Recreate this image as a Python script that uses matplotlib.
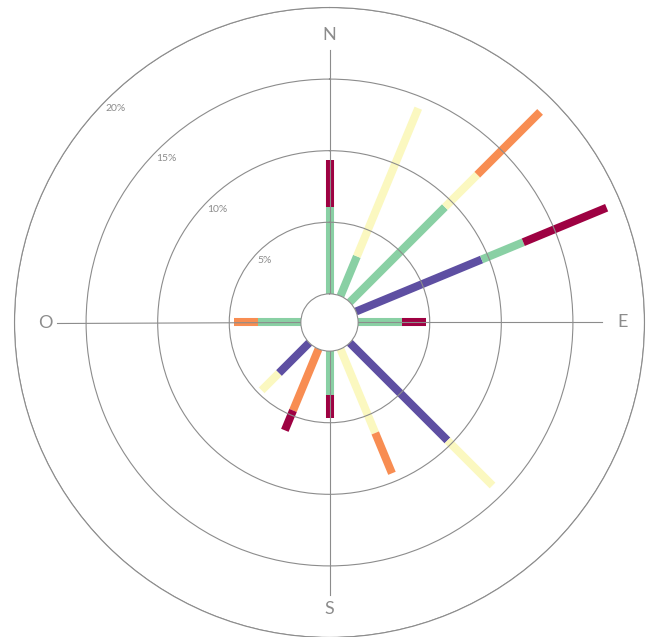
import numpy as np
import matplotlib
matplotlib.use("Agg")
import matplotlib.pyplot as plt

plt.rcParams['font.family'] = ['Lato', 'DejaVu Sans']

# Data (percent of time), stacked from inside outwards
directions = ["N", "NNE", "NE", "ENE", "E", "ESE", "SE", "SSE",
              "S", "SSW", "SW", "WSW", "W", "WNW", "NW", "NNW"]
bearings = [0, 22.5, 45, 67.5, 90, 112.5, 135, 157.5,
            180, 202.5, 225, 247.5, 270, 292.5, 315, 337.5]
speed_classes = ["c1", "c2", "c3", "c4", "c5"]
purple = [0, 0, 0, 9.5, 0, 0, 9.65, 0, 0, 0, 3.0, 0, 0, 0, 0, 0]
green  = [6.1, 3.0, 9.4, 3.15, 3.05, 0, 0, 0, 3.05, 0, 0, 0, 3.0, 0, 0, 0]
yellow = [0, 11.2, 3.2, 0, 0, 0, 4.45, 6.35, 0, 0, 1.7, 0, 0, 0, 0, 0]
orange = [0, 0, 6.2, 0, 0, 0, 0, 3.05, 0, 4.65, 0, 0, 1.7, 0, 0, 0]
crimson = [3.25, 0, 0, 6.3, 1.7, 0, 0, 0, 1.65, 1.5, 0, 0, 0, 0, 0, 0]
series = [purple, green, yellow, orange, crimson]
colors = ["#5e4fa2", "#89d0a4", "#fbf8c0", "#f88d52", "#9e0142"]

ring_values = [5, 10, 15, 20]
ring_labels = ["5%", "10%", "15%", "20%"]
cardinals = ["N", "E", "S", "O"]
cardinal_bearings = [0, 90, 180, 270]

W, H = 653, 637
fig = plt.figure(figsize=(W / 100, H / 100), dpi=100)
cx, cy, R = 329.5, 322.5, 315.0
ax = fig.add_axes([(cx - R) / W, (H - cy - R) / H, 2 * R / W, 2 * R / H],
                  projection='polar')
ax.set_theta_zero_location('N')
ax.set_theta_direction(-1)
ax.set_rlim(0, 20)
ax.set_rorigin(-2)

grey = "#8c8c8c"
ax.set_rgrids(ring_values, labels=[""] * len(ring_values))
ax.set_thetagrids([], [])
ax.grid(True, color=grey, linewidth=0.8)
ax.yaxis.grid(True, color=grey, linewidth=0.8)
ax.xaxis.grid(False)
ax.set_axisbelow(False)
for name, sp in ax.spines.items():
    sp.set_color(grey)
    sp.set_linewidth(0.8)
ax.patch.set_facecolor("white")

# stacked bars drawn as thick radial segments
bar_lw = 5.8
for i, b in enumerate(bearings):
    th = np.deg2rad(b)
    base = 0.0
    for vals, col in zip(series, colors):
        v = vals[i]
        if v > 0:
            ax.plot([th, th], [base, base + v], color=col, lw=bar_lw,
                    solid_capstyle='butt', zorder=2)
            base += v

# spokes
for b in cardinal_bearings:
    th = np.deg2rad(b)
    ax.plot([th, th], [0, 17.05], color=grey, lw=0.8, zorder=3)

# cardinal labels
label_r = [18.1, 18.5, 18.0, 17.85]
for lab, b, r in zip(cardinals, cardinal_bearings, label_r):
    ax.text(np.deg2rad(b), r, lab, ha='center', va='center',
            fontsize=13, color=grey)

# ring labels
for v, lab in zip(ring_values, ring_labels):
    ax.annotate(lab, xy=(np.deg2rad(315), v), xytext=(-1, -4),
                textcoords='offset pixels', ha='left', va='top',
                fontsize=7.5, color=grey)

fig.savefig("out.png", dpi=100, facecolor="white")
